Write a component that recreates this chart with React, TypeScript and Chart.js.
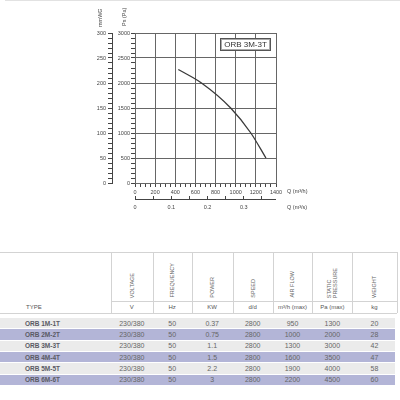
import React, { useEffect, useRef } from 'react';
import { Chart, registerables } from 'chart.js';

Chart.register(...registerables);

// ---- chart data ----
const flowM3h = [430, 660, 950, 1150, 1300];
const staticPa = [2270, 2000, 1500, 1000, 500];
const curveName = 'ORB 3M-3T';
const flowUnitLabel = 'Q (m³/h)';
const flowSecUnitLabel = 'Q (m³/s)';
const pressureAxisLabel = 'Ps (Pa)';
const mmAxisLabel = 'mmWG';

// ---- table data ----
const headerLabels = ['VOLTAGE', 'FREQUENCY', 'POWER', 'SPEED', 'AIR FLOW', 'STATIC\nPRESSURE', 'WEIGHT'];
const unitLabels = ['V', 'Hz', 'KW', 'd/d', 'm³/h (max)', 'Pa (max)', 'kg'];
const typeTitle = 'TYPE';
const types = ['ORB 1M-1T', 'ORB 2M-2T', 'ORB 3M-3T', 'ORB 4M-4T', 'ORB 5M-5T', 'ORB 6M-6T'];
const voltages = ['230/380', '230/380', '230/380', '230/380', '230/380', '230/380'];
const frequencies = ['50', '50', '50', '50', '50', '50'];
const powers = ['0.37', '0.75', '1.1', '1.5', '2.2', '3'];
const speeds = ['2800', '2800', '2800', '2800', '2800', '2800'];
const airflows = ['950', '1000', '1300', '1600', '1900', '2200'];
const pressures = ['1300', '2000', '3000', '3500', '4000', '4500'];
const weights = ['20', '28', '42', '47', '58', '60'];

const FONT = '"Liberation Sans", Arial, sans-serif';
const AX = '#444';

const decorPlugin = {
  id: 'decor',
  afterDraw(chart: any) {
    const { ctx, chartArea, scales } = chart;
    const xs = scales.x;
    const x2 = scales.x2;
    ctx.save();
    ctx.strokeStyle = '#e2e2e2';
    ctx.lineWidth = 1;
    ctx.beginPath();
    ctx.moveTo(5, 0.5);
    ctx.lineTo(400, 0.5);
    ctx.stroke();
    const ly = Math.round(x2.top + 3) + 0.5;
    ctx.strokeStyle = AX;
    ctx.beginPath();
    ctx.moveTo(x2.left, ly);
    ctx.lineTo(x2.right, ly);
    ctx.stroke();
    ctx.fillStyle = '#444';
    ctx.font = `5.5px ${FONT}`;
    ctx.textAlign = 'left';
    ctx.textBaseline = 'middle';
    ctx.fillText(flowUnitLabel, chartArea.right + 11, xs.top + 8.5);
    ctx.fillText(flowSecUnitLabel, chartArea.right + 11, x2.top + 11);
    const rot = (t: string, x: number, y: number) => {
      ctx.save();
      ctx.translate(x, y);
      ctx.rotate(-Math.PI / 2);
      ctx.textAlign = 'left';
      ctx.textBaseline = 'middle';
      ctx.fillText(t, 0, 0);
      ctx.restore();
    };
    rot(mmAxisLabel, 100, 27);
    rot(pressureAxisLabel, 124, 26);
    ctx.font = `8px ${FONT}`;
    const bw = 50;
    const bh = 12;
    const bx = Math.round(chartArea.right - 6 - bw) + 0.5;
    const by = Math.round(chartArea.top + 5) + 0.5;
    ctx.fillStyle = '#fff';
    ctx.fillRect(bx, by, bw, bh);
    ctx.strokeStyle = '#555';
    ctx.strokeRect(bx, by, bw, bh);
    ctx.strokeStyle = '#aaa';
    ctx.strokeRect(bx + 1, by + 1, bw - 2, bh - 2);
    ctx.fillStyle = '#333';
    ctx.textAlign = 'center';
    ctx.textBaseline = 'middle';
    ctx.fillText(curveName, bx + bw / 2, by + bh / 2 + 0.5);
    ctx.restore();
  },
};

function FanChart() {
  const ref = useRef<HTMLCanvasElement | null>(null);
  useEffect(() => {
    if (!ref.current) return;
    const tickFont = { family: FONT, size: 5.5 };
    const gridCol = (step: number) => (c: any) =>
      c.tick && Math.abs(c.tick.value % step) < 1e-6 ? '#666' : 'rgba(0,0,0,0)';
    const chart = new Chart(ref.current, {
      type: 'line',
      data: {
        datasets: [
          {
            label: curveName,
            data: flowM3h.map((q, i) => ({ x: q, y: staticPa[i] })),
            xAxisID: 'x',
            yAxisID: 'y',
            borderColor: '#3a3a3a',
            borderWidth: 1.3,
            pointRadius: 0,
            cubicInterpolationMode: 'monotone',
            fill: false,
          },
        ],
      },
      options: {
        responsive: false,
        animation: false,
        devicePixelRatio: 1,
        layout: { padding: { left: 0, top: 33, right: 124, bottom: 18 } },
        plugins: { legend: { display: false }, tooltip: { enabled: false }, title: { display: false } },
        scales: {
          x: {
            type: 'linear',
            position: 'bottom',
            weight: 0,
            min: 0,
            max: 1400,
            afterFit: (s: any) => { s.height = 13; },
            ticks: {
              stepSize: 50,
              autoSkip: false,
              maxRotation: 0,
              padding: 2,
              color: '#444',
              font: tickFont,
              callback: (v: any) => (Number(v) % 200 === 0 ? String(v) : ''),
            },
            grid: { color: gridCol(200), tickColor: AX, tickLength: 4, lineWidth: 1 },
            border: { display: true, color: '#666' },
          },
          x2: {
            type: 'linear',
            position: 'bottom',
            weight: 1,
            min: 0,
            max: 1400 / 3600,
            afterFit: (s: any) => { s.height = 16; },
            ticks: {
              stepSize: 0.05,
              includeBounds: false,
              autoSkip: false,
              maxRotation: 0,
              padding: 5,
              color: '#444',
              font: tickFont,
              callback: (v: any) => {
                const n = Math.round(Number(v) * 20);
                if (n % 2 !== 0) return '';
                return n === 0 ? '0' : (n / 20).toFixed(1);
              },
            },
            grid: { drawOnChartArea: false, tickColor: AX, tickLength: 3 },
            border: { display: false },
          },
          y: {
            type: 'linear',
            position: 'left',
            weight: 0,
            min: 0,
            max: 3000,
            afterFit: (s: any) => { s.width = 23; },
            ticks: {
              stepSize: 100,
              autoSkip: false,
              padding: 1,
              color: '#444',
              font: tickFont,
              callback: (v: any) => (Number(v) % 500 === 0 ? String(v) : ''),
            },
            grid: { color: gridCol(500), tickColor: AX, tickLength: 4, lineWidth: 1 },
            border: { display: true, color: '#666' },
          },
          y2: {
            type: 'linear',
            position: 'left',
            weight: 1,
            min: 0,
            max: 300,
            afterFit: (s: any) => { s.width = 112; },
            ticks: {
              stepSize: 10,
              autoSkip: false,
              padding: 2,
              color: '#444',
              font: tickFont,
              callback: (v: any) => (Number(v) % 50 === 0 ? String(v) : ''),
            },
            grid: { drawOnChartArea: false, tickColor: AX, tickLength: 4 },
            border: { display: true, color: AX },
          },
        },
      },
      plugins: [decorPlugin],
    } as any);
    return () => chart.destroy();
  }, []);
  return (
    <canvas
      ref={ref}
      width={400}
      height={230}
      style={{ position: 'absolute', left: 0, top: 0, width: 400, height: 230 }}
    />
  );
}

const colEdges = [111, 152.7, 191.7, 232.7, 272.7, 312.3, 352.3, 396.7];
const tableTop = 252;
const headSep = 301;
const headBottom = 312.5;
const rowTop = 318;
const rowPitch = 11.35;
const lineCol = '#d3d3d3';

function HLine({ x1, x2, y }: { x1: number; x2: number; y: number }) {
  return <div style={{ position: 'absolute', left: x1, top: y, width: x2 - x1, height: 1, background: lineCol }} />;
}
function VLine({ x, y1, y2 }: { x: number; y1: number; y2: number }) {
  return <div style={{ position: 'absolute', left: x, top: y1, width: 1, height: y2 - y1, background: lineCol }} />;
}

function SpecTable() {
  const columns = [voltages, frequencies, powers, speeds, airflows, pressures, weights];
  const els: any[] = [];
  els.push(<HLine key="t" x1={0} x2={397} y={tableTop} />);
  els.push(<HLine key="s" x1={colEdges[0]} x2={397} y={headSep} />);
  els.push(<HLine key="b" x1={0} x2={397} y={headBottom} />);
  colEdges.forEach((x, i) => els.push(<VLine key={'v' + i} x={x} y1={tableTop} y2={headBottom} />));
  headerLabels.forEach((h, i) => {
    const l = colEdges[i];
    const w = colEdges[i + 1] - l;
    els.push(
      <div
        key={'h' + i}
        style={{
          position: 'absolute', left: l, top: tableTop, width: w, height: headSep - tableTop - 3,
          display: 'flex', alignItems: 'flex-end', justifyContent: 'center',
        }}
      >
        <div
          style={{
            writingMode: 'vertical-rl', transform: 'rotate(180deg)', fontSize: 5.5, lineHeight: '6px',
            whiteSpace: 'pre', color: '#666', fontFamily: FONT,
          }}
        >
          {h}
        </div>
      </div>
    );
    els.push(
      <div
        key={'u' + i}
        style={{
          position: 'absolute', left: l, top: headSep, width: w, height: headBottom - headSep,
          display: 'flex', alignItems: 'center', justifyContent: 'center',
          fontSize: 6, color: '#555', fontFamily: FONT, whiteSpace: 'nowrap',
        }}
      >
        {unitLabels[i]}
      </div>
    );
  });
  els.push(
    <div
      key="type"
      style={{
        position: 'absolute', left: 26, top: headSep, height: headBottom - headSep,
        display: 'flex', alignItems: 'center', fontSize: 6, color: '#555', fontFamily: FONT,
      }}
    >
      {typeTitle}
    </div>
  );
  types.forEach((t, r) => {
    const top = rowTop + r * rowPitch;
    const h = rowPitch - 1;
    els.push(
      <div
        key={'bg' + r}
        style={{ position: 'absolute', left: 0, top, width: 395, height: h, background: r % 2 === 0 ? '#ebebeb' : '#b3b5d7' }}
      />
    );
    els.push(
      <div
        key={'ty' + r}
        style={{
          position: 'absolute', left: 25, top, height: h, display: 'flex', alignItems: 'center',
          fontSize: 6.5, fontWeight: 'bold', color: '#5a5a64', fontFamily: FONT, whiteSpace: 'nowrap',
        }}
      >
        {t}
      </div>
    );
    columns.forEach((col, c) => {
      const l = colEdges[c];
      const w = colEdges[c + 1] - l;
      els.push(
        <div
          key={'c' + r + '-' + c}
          style={{
            position: 'absolute', left: l, top, width: w, height: h, display: 'flex', alignItems: 'center',
            justifyContent: 'center', fontSize: 7, color: '#666', fontFamily: FONT, whiteSpace: 'nowrap',
          }}
        >
          {col[r]}
        </div>
      );
    });
  });
  return <>{els}</>;
}

export default function App() {
  useEffect(() => {
    document.body.style.margin = '0';
  }, []);
  return (
    <div style={{ position: 'absolute', left: 0, top: 0, width: 400, height: 400, background: '#fff', overflow: 'hidden' }}>
      <FanChart />
      <SpecTable />
    </div>
  );
}
